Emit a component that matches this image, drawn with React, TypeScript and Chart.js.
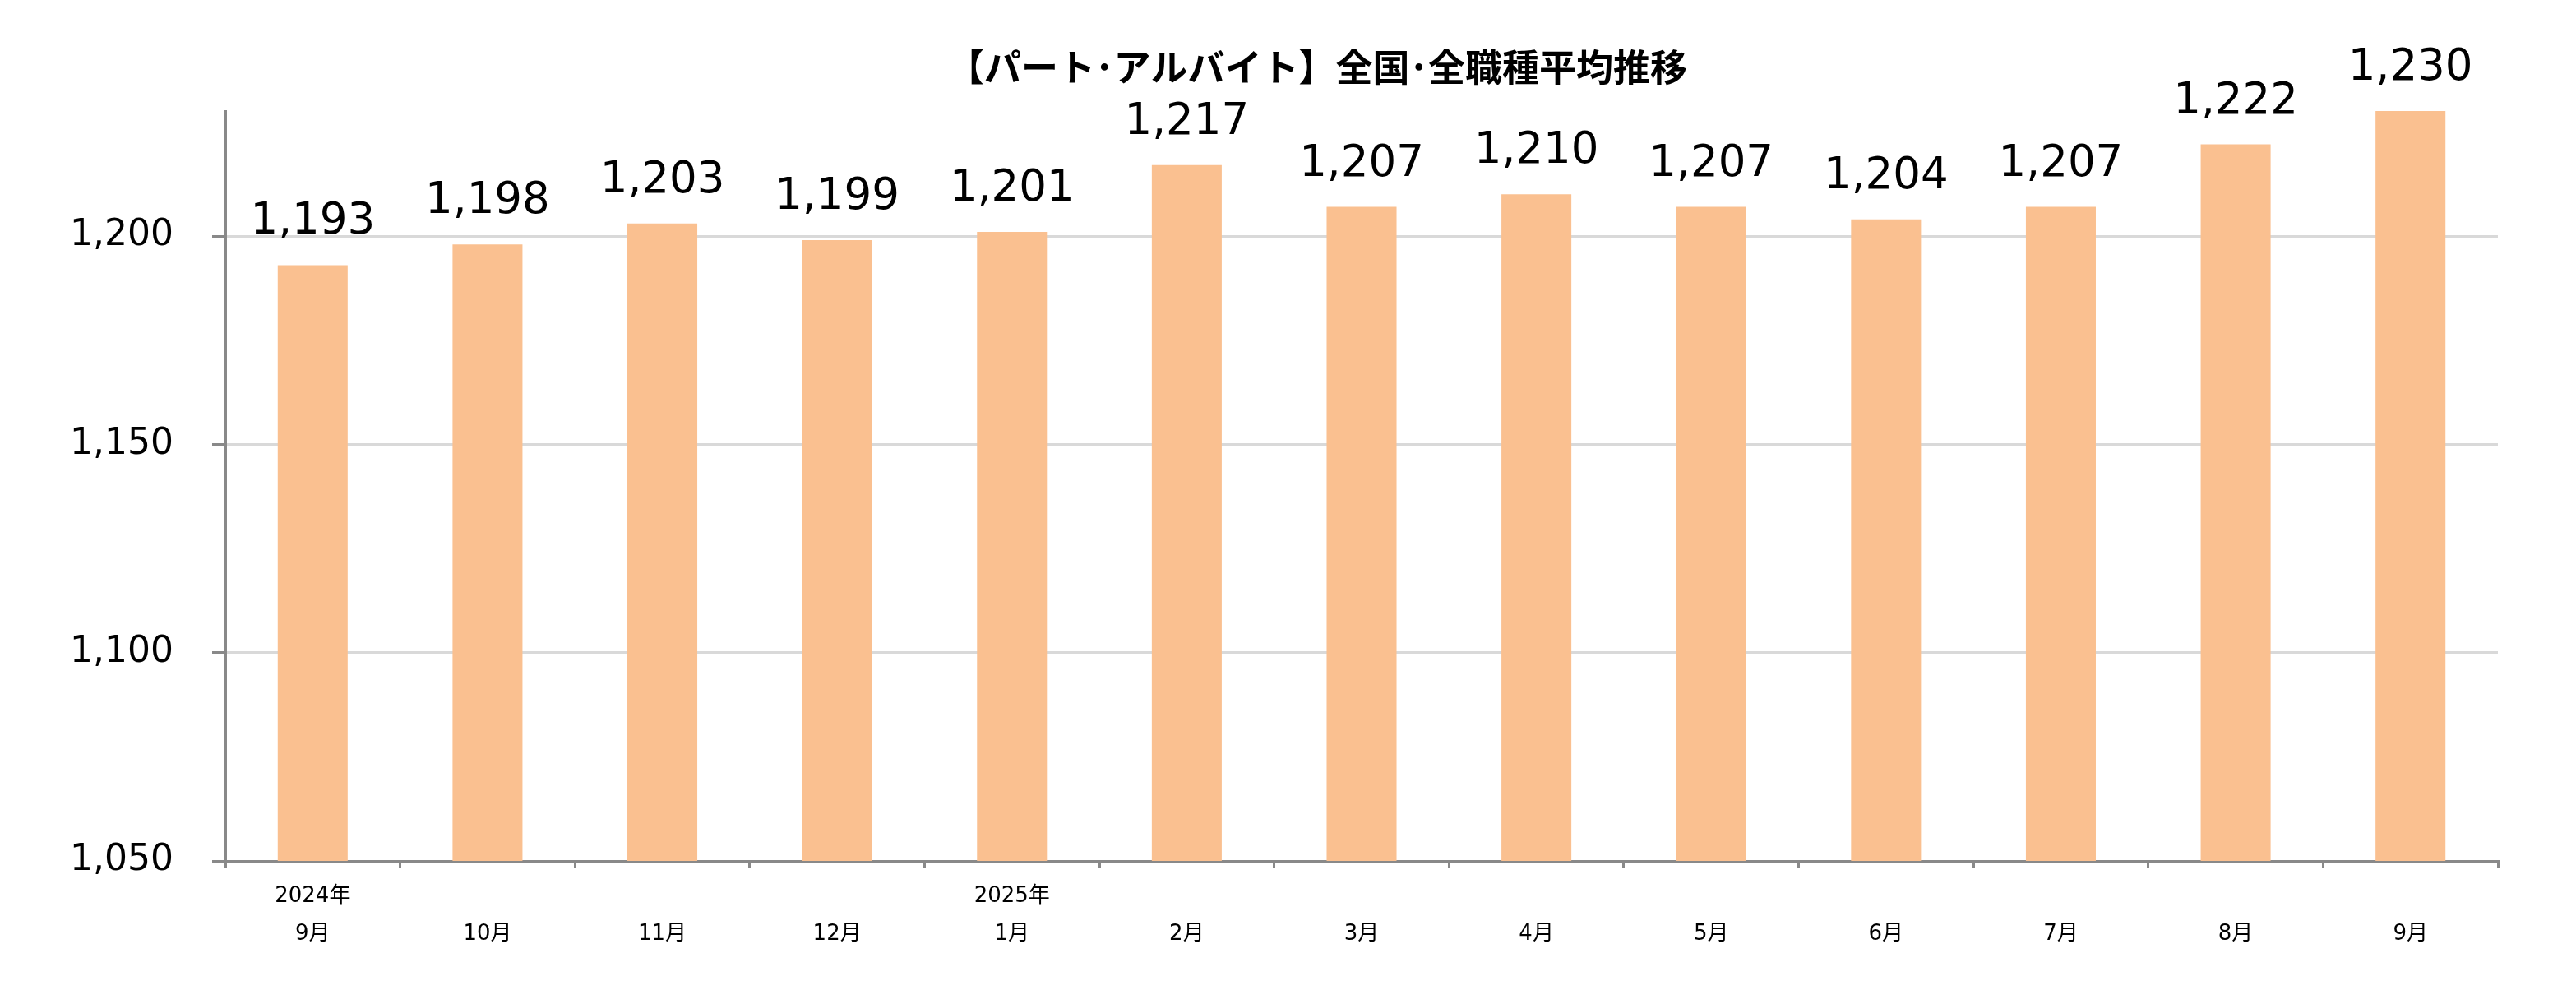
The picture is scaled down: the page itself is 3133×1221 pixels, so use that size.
import React, { useEffect, useRef } from "react";
import { Chart, registerables } from "chart.js";

Chart.register(...registerables);

const categories: string[][] = [
  ["2024年", "9月"],
  ["", "10月"],
  ["", "11月"],
  ["", "12月"],
  ["2025年", "1月"],
  ["", "2月"],
  ["", "3月"],
  ["", "4月"],
  ["", "5月"],
  ["", "6月"],
  ["", "7月"],
  ["", "8月"],
  ["", "9月"],
];
const wages: number[] = [1193, 1198, 1203, 1199, 1201, 1217, 1207, 1210, 1207, 1204, 1207, 1222, 1230];
const yTickValues: number[] = [1050, 1100, 1150, 1200];
const yMin = 1050;
const yMax = 1230;
const chartTitle = "【パート･アルバイト】全国･全職種平均推移";

const LATIN = '"DejaVu Sans", "Noto Sans CJK JP", sans-serif';
const CJK = '"Noto Sans CJK JP", "DejaVu Sans", sans-serif';

const fmt = (v: number) => v.toLocaleString("en-US");

const valueLabels = {
  id: "valueLabels",
  afterDatasetsDraw(chart: any) {
    const ctx = chart.ctx;
    const meta = chart.getDatasetMeta(0);
    ctx.save();
    ctx.font = `53px ${LATIN}`;
    ctx.fillStyle = "#000000";
    ctx.textAlign = "center";
    ctx.textBaseline = "alphabetic";
    meta.data.forEach((bar: any, i: number) => {
      ctx.fillText(fmt(wages[i]), bar.x, bar.y - 38);
    });
    ctx.restore();
  },
};

const titlePlugin = {
  id: "customTitle",
  afterDraw(chart: any) {
    const ctx = chart.ctx;
    const area = chart.chartArea;
    ctx.save();
    ctx.font = `bold 45px ${CJK}`;
    ctx.fillStyle = "#000000";
    ctx.textAlign = "center";
    ctx.textBaseline = "middle";
    ctx.fillText(chartTitle, (area.left + area.right) / 2 - 54, 82);
    ctx.restore();
  },
};

export default function App() {
  const ref = useRef<HTMLCanvasElement | null>(null);

  useEffect(() => {
    document.body.style.margin = "0";
    if (!ref.current) return;
    const chart = new Chart(ref.current, {
      type: "bar",
      data: {
        labels: categories as any,
        datasets: [
          {
            data: wages,
            backgroundColor: "#FAC090",
            borderWidth: 0,
            categoryPercentage: 1,
            barPercentage: 0.4,
          },
        ],
      },
      options: {
        animation: false,
        responsive: false,
        devicePixelRatio: 1,
        layout: { padding: { top: 135, right: 95, left: 0, bottom: 0 } },
        plugins: {
          legend: { display: false },
          tooltip: { enabled: false },
          title: { display: false },
        },
        scales: {
          x: {
            offset: true,
            afterFit: (scale: any) => {
              scale.height = 174;
            },
            border: { color: "#898989", width: 3 },
            grid: {
              offset: true,
              drawOnChartArea: false,
              drawTicks: true,
              tickLength: 9,
              tickColor: "#898989",
              lineWidth: 3,
            },
            ticks: {
              autoSkip: false,
              maxRotation: 0,
              minRotation: 0,
              padding: 11,
              color: "#000000",
              font: { size: 26, family: LATIN, lineHeight: 1.77 },
            },
          },
          y: {
            min: yMin,
            max: yMax,
            afterFit: (scale: any) => {
              scale.width = 274;
            },
            afterBuildTicks: (scale: any) => {
              scale.ticks = yTickValues.map((v) => ({ value: v }));
            },
            border: { color: "#898989", width: 3 },
            grid: {
              color: "#D9D9D9",
              lineWidth: 3,
              drawTicks: true,
              tickLength: 16,
              tickColor: "#898989",
            },
            ticks: {
              padding: 47,
              color: "#000000",
              font: { size: 44, family: LATIN },
              callback: (v: any) => fmt(Number(v)),
            },
          },
        },
      },
      plugins: [valueLabels, titlePlugin],
    });
    return () => chart.destroy();
  }, []);

  return (
    <div style={{ position: "fixed", left: 0, top: 0, width: 3133, height: 1221, background: "#ffffff" }}>
      <canvas ref={ref} width={3133} height={1221} style={{ display: "block", width: 3133, height: 1221 }} />
    </div>
  );
}
